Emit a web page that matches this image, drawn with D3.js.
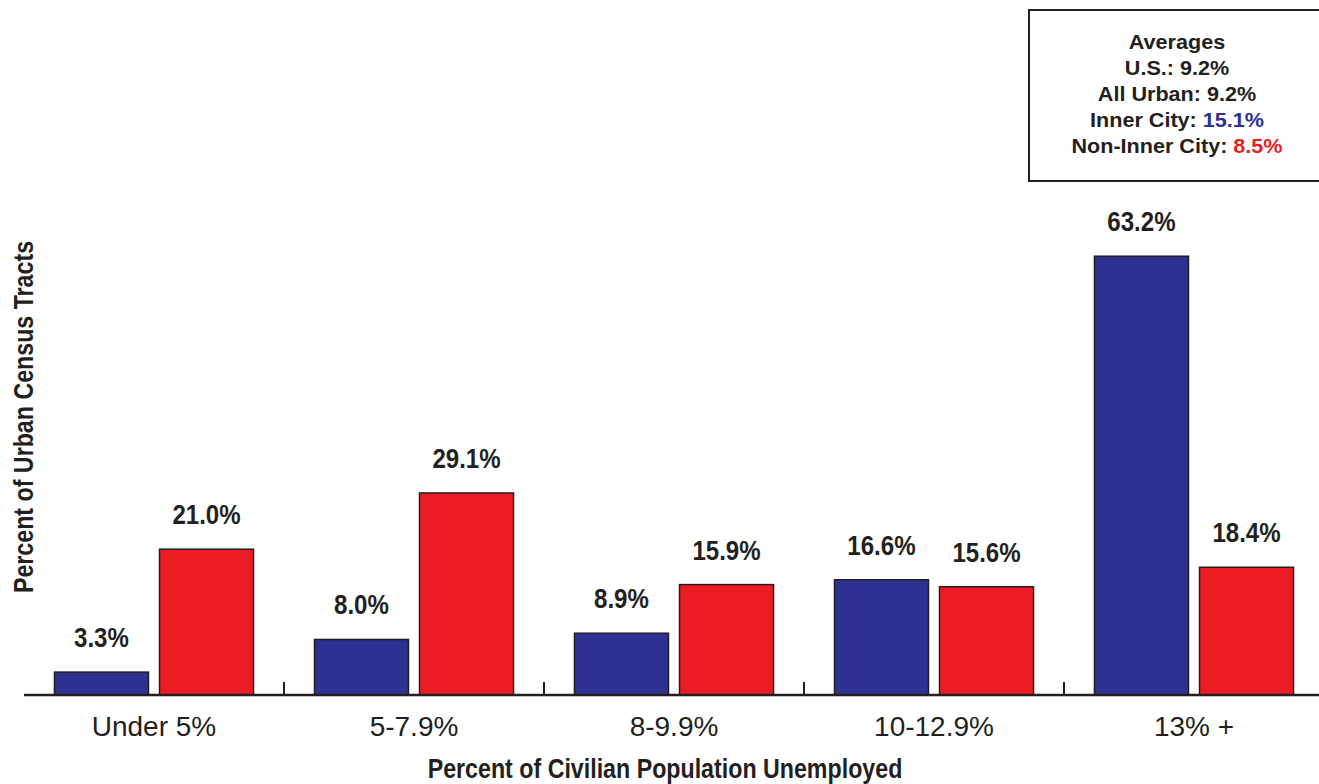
<!DOCTYPE html>
<html>
<head>
<meta charset="utf-8">
<script src="https://cdn.jsdelivr.net/npm/d3@7"></script>
<style>
  html, body { margin: 0; padding: 0; background: #fff; }
  svg { display: block; }
</style>
</head>
<body>
<svg id="chart" width="1319" height="784"></svg>
<script>
const categories = ["Under 5%", "5-7.9%", "8-9.9%", "10-12.9%", "13% +"];
const seriesKeys = ["Inner City", "Non-Inner City"];
const innerCity = [3.3, 8.0, 8.9, 16.6, 63.2];
const nonInnerCity = [21.0, 29.1, 15.9, 15.6, 18.4];
const averageLabels = ["U.S.:", "All Urban:", "Inner City:", "Non-Inner City:"];
const averageValues = ["9.2%", "9.2%", "15.1%", "8.5%"];
const averageSeries = [null, null, "Inner City", "Non-Inner City"];

const colors = { "Inner City": "#2e3192", "Non-Inner City": "#ed1c24" };
const ink = "#231f20";
const sans = "'Liberation Sans', Arial, Helvetica, sans-serif";
const narrow = 0.86;

const svg = d3.select("#chart");

const baseY = 695;
const x0 = d3.scaleBand().domain(categories).range([24, 1324]).paddingInner(0).paddingOuter(0);
const x1 = d3.scaleBand().domain(seriesKeys).range([0, x0.bandwidth()]).paddingInner(0.105).paddingOuter(0.29);
const y = d3.scaleLinear().domain([0, 70]).range([baseY, 209]);

const rows = categories.map((c, i) => ({
  cat: c,
  values: [
    { key: "Inner City", value: innerCity[i] },
    { key: "Non-Inner City", value: nonInnerCity[i] }
  ]
}));

// bars
const groups = svg.append("g").selectAll("g")
  .data(rows).join("g")
  .attr("transform", d => `translate(${x0(d.cat)},0)`);

groups.selectAll("rect")
  .data(d => d.values).join("rect")
  .attr("x", d => x1(d.key))
  .attr("y", d => y(d.value))
  .attr("width", x1.bandwidth())
  .attr("height", d => baseY - y(d.value))
  .attr("fill", d => colors[d.key])
  .attr("stroke", ink)
  .attr("stroke-width", 1.5);

groups.selectAll("g.val")
  .data(d => d.values).join("g")
  .attr("class", "val")
  .attr("transform", d => `translate(${x1(d.key) + x1.bandwidth() / 2},${y(d.value) - 25}) scale(${narrow},1)`)
  .append("text")
  .attr("text-anchor", "middle")
  .attr("font-family", sans)
  .attr("font-weight", "bold")
  .attr("font-size", 28)
  .attr("fill", ink)
  .text(d => d.value.toFixed(1) + "%");

// x axis
const axisG = svg.append("g").attr("transform", `translate(0,${baseY})`);
axisG.append("line")
  .attr("x1", 24).attr("x2", 1319)
  .attr("y1", 0).attr("y2", 0)
  .attr("stroke", ink).attr("stroke-width", 2.5);
axisG.selectAll("line.tick")
  .data(categories.slice(1)).join("line")
  .attr("class", "tick")
  .attr("x1", d => x0(d)).attr("x2", d => x0(d))
  .attr("y1", 0).attr("y2", -13)
  .attr("stroke", ink).attr("stroke-width", 2);
axisG.selectAll("text.cat")
  .data(categories).join("text")
  .attr("class", "cat")
  .attr("x", d => x0(d) + x0.bandwidth() / 2)
  .attr("y", 41)
  .attr("text-anchor", "middle")
  .attr("font-family", sans)
  .attr("font-size", 28)
  .attr("fill", ink)
  .text(d => d);

// axis titles
svg.append("g")
  .attr("transform", `translate(665,778) scale(${narrow},1)`)
  .append("text")
  .attr("text-anchor", "middle")
  .attr("font-family", sans)
  .attr("font-weight", "bold")
  .attr("font-size", 27)
  .attr("fill", ink)
  .text("Percent of Civilian Population Unemployed");

svg.append("g")
  .attr("transform", `translate(33,417) rotate(-90) scale(${narrow},1)`)
  .append("text")
  .attr("text-anchor", "middle")
  .attr("font-family", sans)
  .attr("font-weight", "bold")
  .attr("font-size", 27)
  .attr("fill", ink)
  .text("Percent of Urban Census Tracts");

// averages box
const box = svg.append("g");
box.append("rect")
  .attr("x", 1029).attr("y", 10)
  .attr("width", 300).attr("height", 171)
  .attr("fill", "#fff")
  .attr("stroke", ink).attr("stroke-width", 2);
const boxCx = 1177;
const wide = 1.08;
box.append("g")
  .attr("transform", `translate(${boxCx},49) scale(${wide},1)`)
  .append("text")
  .attr("text-anchor", "middle")
  .attr("font-family", sans).attr("font-weight", "bold")
  .attr("font-size", 20).attr("fill", ink)
  .text("Averages");
averageLabels.forEach((lab, i) => {
  const t = box.append("g")
    .attr("transform", `translate(${boxCx},${75 + i * 26}) scale(${wide},1)`)
    .append("text")
    .attr("text-anchor", "middle")
    .attr("font-family", sans).attr("font-weight", "bold")
    .attr("font-size", 20).attr("fill", ink);
  t.append("tspan").text(lab + " ");
  t.append("tspan")
    .attr("fill", averageSeries[i] ? colors[averageSeries[i]] : ink)
    .text(averageValues[i]);
});
</script>
</body>
</html>
